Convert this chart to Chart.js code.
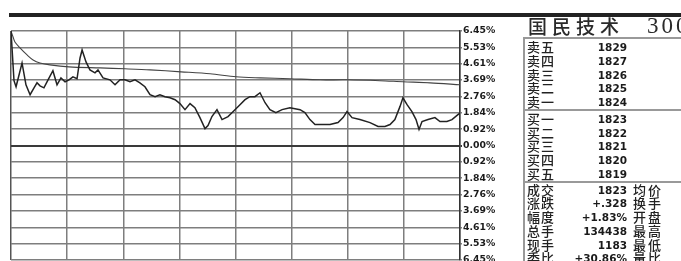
<!DOCTYPE html>
<html>
<head>
<meta charset="utf-8">
<script src="https://cdn.jsdelivr.net/npm/chart.js@4/dist/chart.umd.min.js"></script>
<style>
html,body{margin:0;padding:0;background:#fff;width:681px;height:261px;overflow:hidden;position:relative;}
#topbar{position:absolute;left:9px;top:13px;width:672px;height:4px;background:#222;}
#wrap{position:absolute;left:0;top:0;width:520px;height:275px;}
#panel{position:absolute;left:0;top:0;width:681px;height:261px;pointer-events:none;}
.title{position:absolute;left:528px;top:15px;font-family:"Noto Sans CJK SC";font-weight:500;font-size:19px;letter-spacing:5px;color:#2a2a2a;white-space:nowrap;line-height:22px;}
.code{position:absolute;left:647px;top:15px;font-family:"Liberation Serif";font-size:23px;letter-spacing:3px;color:#2a2a2a;white-space:nowrap;line-height:22px;}
.lab{position:absolute;left:527px;font-family:"Noto Sans CJK SC";font-weight:500;font-size:13px;color:#222;line-height:14px;letter-spacing:1px;}
.val{position:absolute;width:100px;left:527px;text-align:right;font-family:"DejaVu Sans";font-weight:bold;font-size:10.5px;color:#1a1a1a;line-height:14px;}
.side{position:absolute;left:633px;font-family:"Noto Sans CJK SC";font-weight:500;font-size:13px;color:#222;line-height:14px;letter-spacing:2px;}
.hl{position:absolute;height:1.5px;background:#999;}
.vl{position:absolute;width:1.5px;background:#999;}
</style>
</head>
<body>
<div id="topbar"></div>
<div id="wrap"><canvas id="c" width="520" height="275" style="width:520px;height:275px"></canvas></div>
<div id="panel"></div>
<script>
// ---- data ----
const stockName = '国民技术';
const stockCode = '300077';
const priceMinutes = [0,1.6,2.7,5.9,8.0,10.2,12.3,13.9,15.5,17.6,19.8,22.4,24.6,26.7,28.9,31.0,33.1,35.3,36.9,38.0,40.1,42.2,44.9,46.5,49.2,52.9,55.6,58.3,60.9,63.6,66.3,68.9,71.6,74.3,77.0,79.6,82.3,85.0,87.7,90.3,93.0,95.7,98.3,101.0,103.7,105.3,107.4,110.1,112.8,116.0,118.1,122.4,125.1,127.7,130.4,133.1,135.8,138.4,141.6,144.9,149.1,154.5,157.1,159.8,162.5,166.2,170.5,174.8,177.5,179.6,182.3,186.5,191.9,196.2,199.9,202.6,205.2,207.9,209.5,211.7,214.3,216.5,218.1,219.7,222.9,226.6,229.3,233.0,235.7,238.9,240];
const pricePct = [6.45,3.65,3.31,4.65,3.42,2.86,3.25,3.53,3.36,3.25,3.70,4.21,3.42,3.81,3.59,3.70,3.87,3.76,4.93,5.38,4.71,4.26,4.09,4.26,3.81,3.70,3.42,3.70,3.70,3.59,3.70,3.53,3.31,2.86,2.75,2.86,2.75,2.69,2.58,2.36,2.02,2.36,2.13,1.57,0.95,1.12,1.63,2.02,1.46,1.63,1.85,2.30,2.58,2.75,2.75,2.97,2.41,2.02,1.85,2.02,2.13,2.02,1.85,1.46,1.18,1.18,1.18,1.29,1.57,1.91,1.57,1.46,1.29,1.07,1.07,1.18,1.46,2.19,2.69,2.30,1.91,1.46,0.90,1.35,1.46,1.57,1.35,1.35,1.46,1.74,1.83];
const avgMinutes = [0,1.1,2.1,4.8,8.6,11.8,15.5,20.8,31.0,47.6,60.9,74.3,90.9,106.4,120.3,133.1,149.1,165.2,179.6,197.2,209.5,224.0,240];
const avgPct = [6.45,6.11,5.83,5.50,5.10,4.82,4.65,4.54,4.43,4.37,4.32,4.26,4.15,4.04,3.87,3.81,3.76,3.70,3.70,3.65,3.59,3.53,3.42];
const pctTicks = [6.45,5.53,4.61,3.69,2.76,1.84,0.92,0,-0.92,-1.84,-2.76,-3.69,-4.61,-5.53,-6.45];
const timeTicks = [0,30,60,90,120,150,180,210,240];
const quoteLabels = ['卖五','卖四','卖三','卖二','卖一','买一','买二','买三','买四','买五','成交','涨跌','幅度','总手','现手','委比'];
const quoteValues = ['1829','1827','1826','1825','1824','1823','1822','1821','1820','1819','1823','+.328','+1.83%','134438','1183','+30.86%'];
const sideLabels = ['','','','','','','','','','','均价','换手','开盘','最高','最低','量比'];

// ---- chart ----
new Chart(document.getElementById('c'), {
  type: 'line',
  data: {
    datasets: [
      {data: priceMinutes.map((m,i)=>({x:m,y:pricePct[i]})), borderColor:'#222', borderWidth:1.5, pointRadius:0, tension:0},
      {data: avgMinutes.map((m,i)=>({x:m,y:avgPct[i]})), borderColor:'#444', borderWidth:1.1, pointRadius:0, tension:0.3}
    ]
  },
  options: {
    responsive:false, animation:false, devicePixelRatio:1,
    layout:{padding:{left:11,top:31,right:0,bottom:15}},
    plugins:{legend:{display:false},tooltip:{enabled:false}},
    scales:{
      x:{type:'linear',min:0,max:240,
        afterBuildTicks:s=>{s.ticks=timeTicks.map(v=>({value:v}));},
        ticks:{display:false},
        grid:{drawTicks:false,color:c=>c.tick&&c.tick.value===0?'#555':'#7e7e7e',lineWidth:1.5},
        border:{display:false}
      },
      y:{position:'right',min:-6.45,max:6.45,
        afterBuildTicks:s=>{s.ticks=pctTicks.map(v=>({value:v}));},
        afterFit:s=>{s.width=60;},
        ticks:{padding:1,color:'#1a1a1a',font:{family:'DejaVu Sans',weight:'bold',size:9.3},
          callback:v=>Math.abs(v).toFixed(2)+'%'},
        grid:{tickLength:2,color:c=>c.tick&&c.tick.value===0?'#3a3a3a':'#7e7e7e',lineWidth:c=>c.tick&&c.tick.value===0?2:1.5},
        border:{display:true,color:'#333',width:1.5}
      }
    }
  }
});

// ---- quote panel ----
const panel = document.getElementById('panel');
function add(cls, txt, style){const d=document.createElement('div');d.className=cls;d.textContent=txt;Object.assign(d.style,style||{});panel.appendChild(d);}
add('title', stockName);
add('code', stockCode);
add('hl','',{left:'523px',top:'37px',width:'158px'});
add('vl','',{left:'523px',top:'37px',height:'224px'});
add('hl','',{left:'523px',top:'109px',width:'158px'});
add('hl','',{left:'523px',top:'181px',width:'158px'});
quoteLabels.forEach((l,i)=>{
  const top = 40 + i*13.75 + (i>=5?3:0) + (i>=10?2:0);
  add('lab', l, {top:top+'px'});
  add('val', quoteValues[i], {top:top+'px'});
  if(sideLabels[i]) add('side', sideLabels[i], {top:top+'px'});
});
</script>
</body>
</html>
